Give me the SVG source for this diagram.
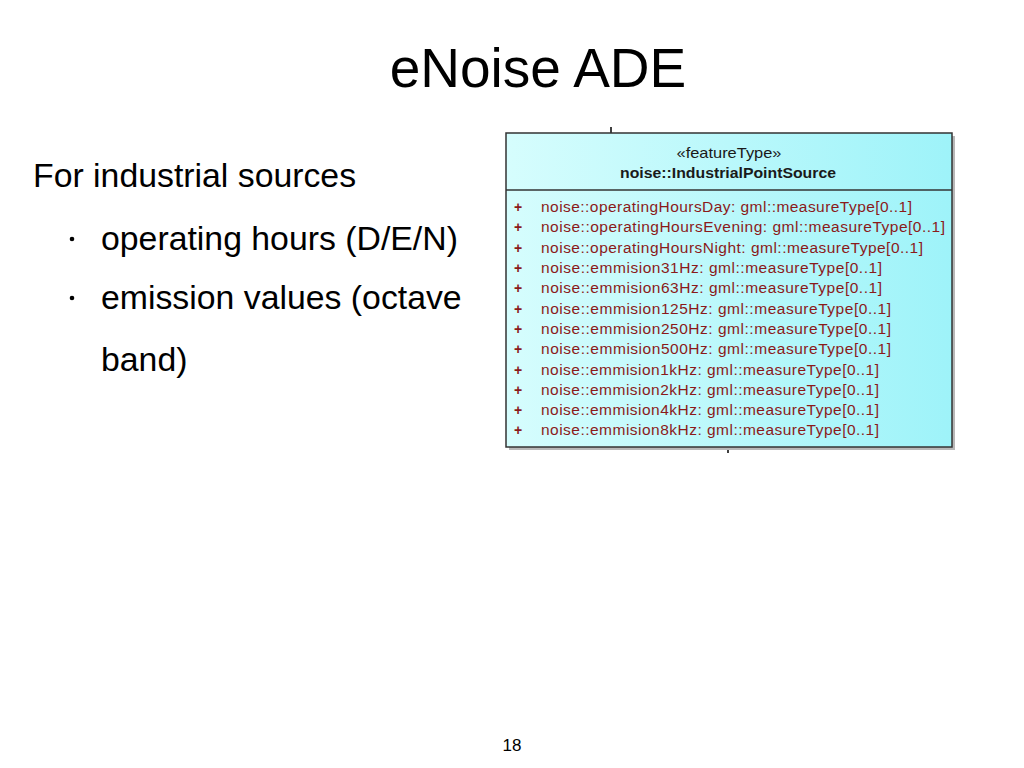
<svg xmlns="http://www.w3.org/2000/svg" width="1024" height="768" viewBox="0 0 1024 768">
<defs>
<linearGradient id="g" x1="0" y1="0" x2="1" y2="0">
<stop offset="0" stop-color="#d6fdfd"/>
<stop offset="1" stop-color="#9ef3f9"/>
</linearGradient>
<style>
.t{font-family:"Liberation Sans",Arial,sans-serif;fill:#000}
.a{font-family:"Liberation Sans",Arial,sans-serif;font-size:15.5px;fill:#8b1a1a}
.p{font-weight:bold;font-size:14px}
.h{font-family:"Liberation Sans",Arial,sans-serif;font-size:14.5px;fill:#1a1a1a;text-anchor:middle}
</style>
</defs>
<rect width="1024" height="768" fill="#fff"/>
<text class="t" x="538" y="87" font-size="55" text-anchor="middle">eNoise ADE</text>
<text class="t" x="33" y="187" font-size="33.8">For industrial sources</text>
<circle cx="72" cy="239" r="2.3" fill="#000"/>
<text class="t" x="101" y="250" font-size="33.8">operating hours (D/E/N)</text>
<circle cx="72" cy="298" r="2.3" fill="#000"/>
<text class="t" x="101" y="309" font-size="33.8">emission values (octave</text>
<text class="t" x="101" y="371" font-size="33.8">band)</text>
<text class="t" x="512" y="751" font-size="17" text-anchor="middle">18</text>
<g id="connectors" stroke="#000" stroke-width="1.5">
<line x1="611" y1="127" x2="611" y2="133"/>
<line x1="728" y1="447" x2="728" y2="453"/>
</g>
<g id="IndustrialPointSource">
<rect x="509" y="136" width="446" height="314" fill="#b8b8b8"/>
<rect x="506" y="133" width="446" height="314" fill="url(#g)" stroke="#333" stroke-width="1.5"/>
<line x1="506" y1="190" x2="952" y2="190" stroke="#333" stroke-width="1.5"/>
<text class="h" x="729" y="158" textLength="105" lengthAdjust="spacingAndGlyphs">«featureType»</text>
<text class="h" x="728" y="178" font-weight="bold" textLength="216" lengthAdjust="spacingAndGlyphs">noise::IndustrialPointSource</text>
<g class="a">
<text class="p" x="514" y="212">+</text><text x="541" y="212" textLength="371">noise::operatingHoursDay: gml::measureType[0..1]</text>
<text class="p" x="514" y="232">+</text><text x="541" y="232" textLength="404">noise::operatingHoursEvening: gml::measureType[0..1]</text>
<text class="p" x="514" y="253">+</text><text x="541" y="253" textLength="382">noise::operatingHoursNight: gml::measureType[0..1]</text>
<text class="p" x="514" y="273">+</text><text x="541" y="273" textLength="341">noise::emmision31Hz: gml::measureType[0..1]</text>
<text class="p" x="514" y="293">+</text><text x="541" y="293" textLength="341">noise::emmision63Hz: gml::measureType[0..1]</text>
<text class="p" x="514" y="314">+</text><text x="541" y="314" textLength="350">noise::emmision125Hz: gml::measureType[0..1]</text>
<text class="p" x="514" y="334">+</text><text x="541" y="334" textLength="350">noise::emmision250Hz: gml::measureType[0..1]</text>
<text class="p" x="514" y="354">+</text><text x="541" y="354" textLength="350">noise::emmision500Hz: gml::measureType[0..1]</text>
<text class="p" x="514" y="375">+</text><text x="541" y="375" textLength="338">noise::emmision1kHz: gml::measureType[0..1]</text>
<text class="p" x="514" y="395">+</text><text x="541" y="395" textLength="338">noise::emmision2kHz: gml::measureType[0..1]</text>
<text class="p" x="514" y="415">+</text><text x="541" y="415" textLength="338">noise::emmision4kHz: gml::measureType[0..1]</text>
<text class="p" x="514" y="435">+</text><text x="541" y="435" textLength="338">noise::emmision8kHz: gml::measureType[0..1]</text>
</g>
</g>
</svg>
